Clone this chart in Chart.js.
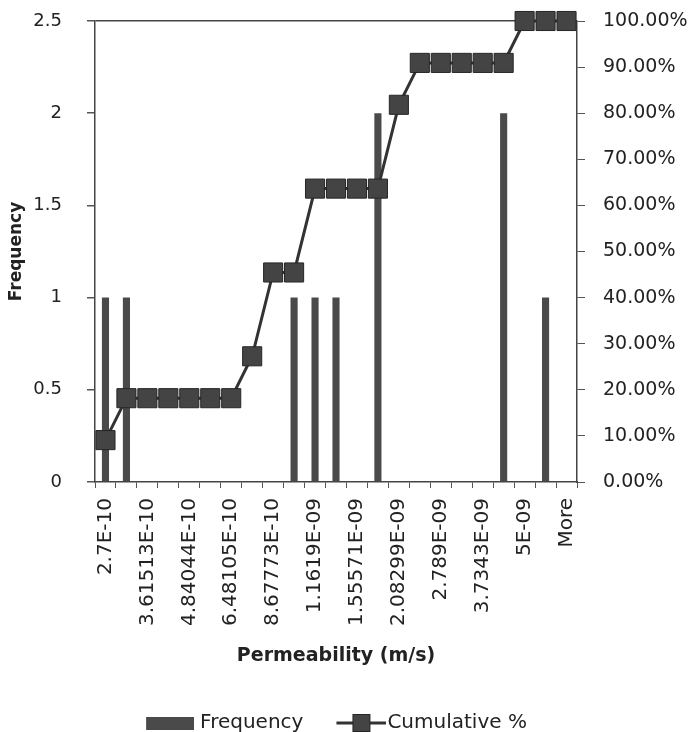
<!DOCTYPE html>
<html>
<head>
<meta charset="utf-8">
<script src="https://cdn.jsdelivr.net/npm/chart.js@4.4.1/dist/chart.umd.min.js"></script>
<style>
  html, body { margin: 0; padding: 0; background: #fff; }
  #wrap { width: 693px; height: 732px; }
</style>
</head>
<body>
<div id="wrap"><canvas id="hist" width="693" height="732"></canvas></div>
<script>
// bins (only every other one is labelled on the axis)
const bins = ['2.7E-10', '3.12425E-10', '3.61513E-10', '4.18317E-10', '4.84044E-10', '5.60099E-10',
    '6.48105E-10', '7.49939E-10', '8.67773E-10', '1.00412E-09', '1.1619E-09', '1.3445E-09',
    '1.55571E-09', '1.80016E-09', '2.08299E-09', '2.41029E-09', '2.789E-09', '3.22722E-09',
    '3.7343E-09', '4.32106E-09', '5E-09', '5.78565E-09', 'More'];
const frequency = [1, 1, 0, 0, 0, 0, 0, 0, 0, 1, 1, 1, 0, 2, 0, 0, 0, 0, 0, 2, 0, 1, 0];
const cumulative = [9.09, 18.18, 18.18, 18.18, 18.18, 18.18, 18.18, 27.27, 45.45, 45.45, 63.64, 63.64,
    63.64, 63.64, 81.82, 90.91, 90.91, 90.91, 90.91, 90.91, 100, 100, 100];
const freqTicks = [0, 0.5, 1, 1.5, 2, 2.5];
const pctTicks = [0, 10, 20, 30, 40, 50, 60, 70, 80, 90, 100];

const FONT = "'DejaVu Sans', sans-serif";
const INK = '#222';
const BAR = '#4a4a4a';
const LINE = '#333';
const LEG_SHIFT = 11;   // push legend a little below its default spot
const LEFT_SHIFT = 24;  // legend sits a bit left of centre

// legend swatches
function swatchBar() {
    const c = document.createElement('canvas');
    c.width = 56; c.height = 13;
    const g = c.getContext('2d');
    g.fillStyle = BAR;
    g.fillRect(8, 0, 48, 13);
    return c;
}
function swatchLine() {
    const c = document.createElement('canvas');
    c.width = 66; c.height = 20;
    const g = c.getContext('2d');
    g.strokeStyle = LINE;
    g.lineWidth = 3;
    g.beginPath(); g.moveTo(16, 10); g.lineTo(66, 10); g.stroke();
    g.fillStyle = '#444';
    g.fillRect(32, 1, 18, 18);
    g.strokeStyle = '#262626';
    g.lineWidth = 1;
    g.strokeRect(32.5, 1.5, 17, 17);
    return c;
}
const swatches = [swatchBar(), swatchLine()];

const ctx = document.getElementById('hist');
new Chart(ctx, {
    data: {
        labels: bins,
        datasets: [{
            type: 'line',
            label: 'Cumulative %',
            data: cumulative,
            yAxisID: 'y1',
            order: 0,
            borderColor: LINE,
            borderWidth: 3,
            pointStyle: 'rect',
            pointRadius: 13.5,
            pointBackgroundColor: '#444',
            pointBorderColor: '#262626',
            pointBorderWidth: 1,
            tension: 0,
            clip: false
        }, {
            type: 'bar',
            label: 'Frequency',
            data: frequency,
            yAxisID: 'y',
            order: 1,
            backgroundColor: BAR,
            borderWidth: 0,
            barPercentage: 0.34,
            categoryPercentage: 1
        }]
    },
    options: {
        responsive: false,
        animation: false,
        layout: { padding: { top: 21, left: -LEFT_SHIFT, right: 0, bottom: -LEG_SHIFT } },
        plugins: {
            tooltip: { enabled: false },
            legend: {
                position: 'bottom',
                reverse: true,
                labels: {
                    color: INK,
                    font: { family: FONT, size: 20 },
                    usePointStyle: true,
                    pointStyleWidth: 48,
                    boxHeight: 20,
                    padding: 26,
                    generateLabels(chart) {
                        const items = Chart.defaults.plugins.legend.labels.generateLabels(chart);
                        items.forEach(it => {
                            it.pointStyle = it.datasetIndex === 1 ? swatches[0] : swatches[1];
                        });
                        return items;
                    }
                }
            }
        },
        scales: {
            x: {
                type: 'category',
                offset: true,
                grid: {
                    offset: true,
                    drawOnChartArea: false,
                    drawTicks: true,
                    tickLength: 6,
                    tickColor: '#555'
                },
                border: { display: true, color: '#444', width: 1.5 },
                ticks: {
                    autoSkip: false,
                    maxRotation: 90,
                    minRotation: 90,
                    padding: 10,
                    color: INK,
                    font: { family: FONT, size: 20 },
                    callback(v, i) { return i % 2 === 0 ? bins[i] : ''; }
                },
                title: {
                    display: true,
                    text: 'Permeability (m/s)',
                    color: INK,
                    font: { family: FONT, size: 19, weight: 'bold' },
                    padding: { top: 4, bottom: 20 }
                },
                afterFit(scale) {
                    const lg = scale.chart.legend ? scale.chart.legend.height : 40;
                    scale.height = 732 + LEG_SHIFT - 482 - lg;
                }
            },
            y: {
                position: 'left',
                min: 0,
                max: 2.5,
                afterBuildTicks(scale) { scale.ticks = freqTicks.map(v => ({ value: v })); },
                grid: {
                    drawOnChartArea: true,
                    color: c => (c.tick && c.tick.value === 2.5 ? '#444' : 'rgba(0,0,0,0)'),
                    lineWidth: 1.5,
                    drawTicks: true,
                    tickLength: 8,
                    tickColor: '#555'
                },
                border: { display: true, color: '#444', width: 1.5 },
                ticks: {
                    padding: 25,
                    color: INK,
                    font: { family: FONT, size: 18 },
                    callback(v) { return String(v); }
                },
                title: {
                    display: true,
                    text: 'Frequency',
                    color: INK,
                    font: { family: FONT, size: 17, weight: 'bold' },
                    padding: { top: 6 + LEFT_SHIFT, bottom: 0 }
                },
                afterFit(scale) {
                    scale.width = 95 + LEFT_SHIFT;
                    scale.paddingTop = 0;
                    scale.paddingBottom = 0;
                }
            },
            y1: {
                position: 'right',
                min: 0,
                max: 100,
                afterBuildTicks(scale) { scale.ticks = pctTicks.map(v => ({ value: v })); },
                grid: {
                    drawOnChartArea: false,
                    drawTicks: true,
                    tickLength: 8,
                    tickColor: '#555'
                },
                border: { display: true, color: '#444', width: 1.5 },
                ticks: {
                    padding: 18,
                    color: INK,
                    font: { family: FONT, size: 19 },
                    callback(v) { return v.toFixed(2) + '%'; }
                },
                afterFit(scale) {
                    scale.width = 116;
                    scale.paddingTop = 0;
                    scale.paddingBottom = 0;
                }
            }
        }
    }
});
</script>
</body>
</html>
